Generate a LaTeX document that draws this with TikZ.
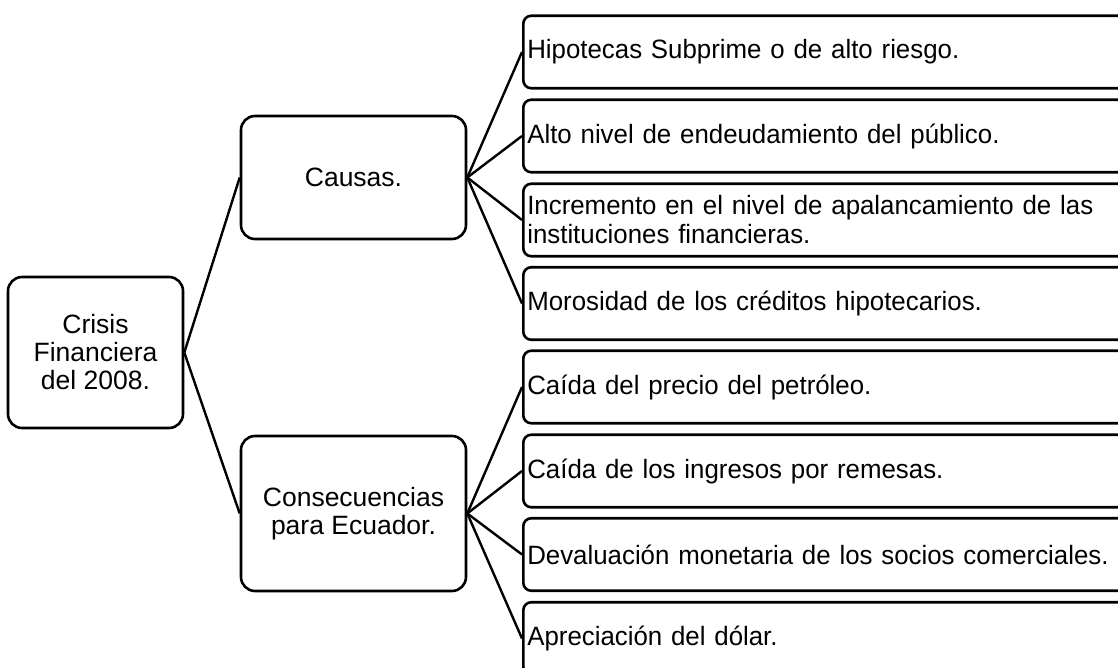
\documentclass[tikz,border=0pt]{standalone}
\usepackage{fontspec}
\setmainfont{Liberation Sans}
\newfontfamily\leaffont[FakeStretch=0.975]{Liberation Sans}
\begin{document}
\begin{tikzpicture}[x=1pt,y=-1pt,
  box/.style={draw, line width=2.6pt, rounded corners=14pt, font=\fontsize{26.5}{28}\selectfont, align=center, inner sep=0pt},
  leaf/.style={draw, line width=2.6pt, rounded corners=8pt, font=\leaffont\fontsize{26.5}{29}\selectfont, align=left, text width=632pt, inner xsep=4pt, inner ysep=0pt, minimum height=72.5pt, anchor=west},
  link/.style={line width=2.4pt}]
\useasboundingbox (0,0) rectangle (1118,668);
\clip (0,0) rectangle (1118,668);

\node[box, minimum width=175pt, minimum height=151pt] (root) at (95.5,352.5) {Crisis\\Financiera\\del 2008.};
\node[box, minimum width=225pt, minimum height=123pt] (causas) at (353.5,177.5) {Causas.};
\node[box, minimum width=225pt, minimum height=155pt] (cons) at (353.5,513.5) {Consecuencias\\para Ecuador.};

\node[leaf] (c1) at (522,52) {Hipotecas Subprime o de alto riesgo.};
\node[leaf] (c2) at (522,136) {Alto nivel de endeudamiento del público.};
\node[leaf] (c3) at (522,220) {Incremento en el nivel de apalancamiento de las\\instituciones financieras.};
\node[leaf] (c4) at (522,303.5) {Morosidad de los créditos hipotecarios.};
\node[leaf] (e1) at (522,387) {Caída del precio del petróleo.};
\node[leaf] (e2) at (522,471) {Caída de los ingresos por remesas.};
\node[leaf] (e3) at (522,554.5) {Devaluación monetaria de los socios comerciales.};
\node[leaf] (e4) at (522,638.5) {Apreciación del dólar.};

\draw[link] (root.east) -- (causas.west);
\draw[link] (root.east) -- (cons.west);
\foreach \n in {c1,c2,c3,c4} \draw[link] (causas.east) -- (\n.west);
\foreach \n in {e1,e2,e3,e4} \draw[link] (cons.east) -- (\n.west);
\end{tikzpicture}
\end{document}
